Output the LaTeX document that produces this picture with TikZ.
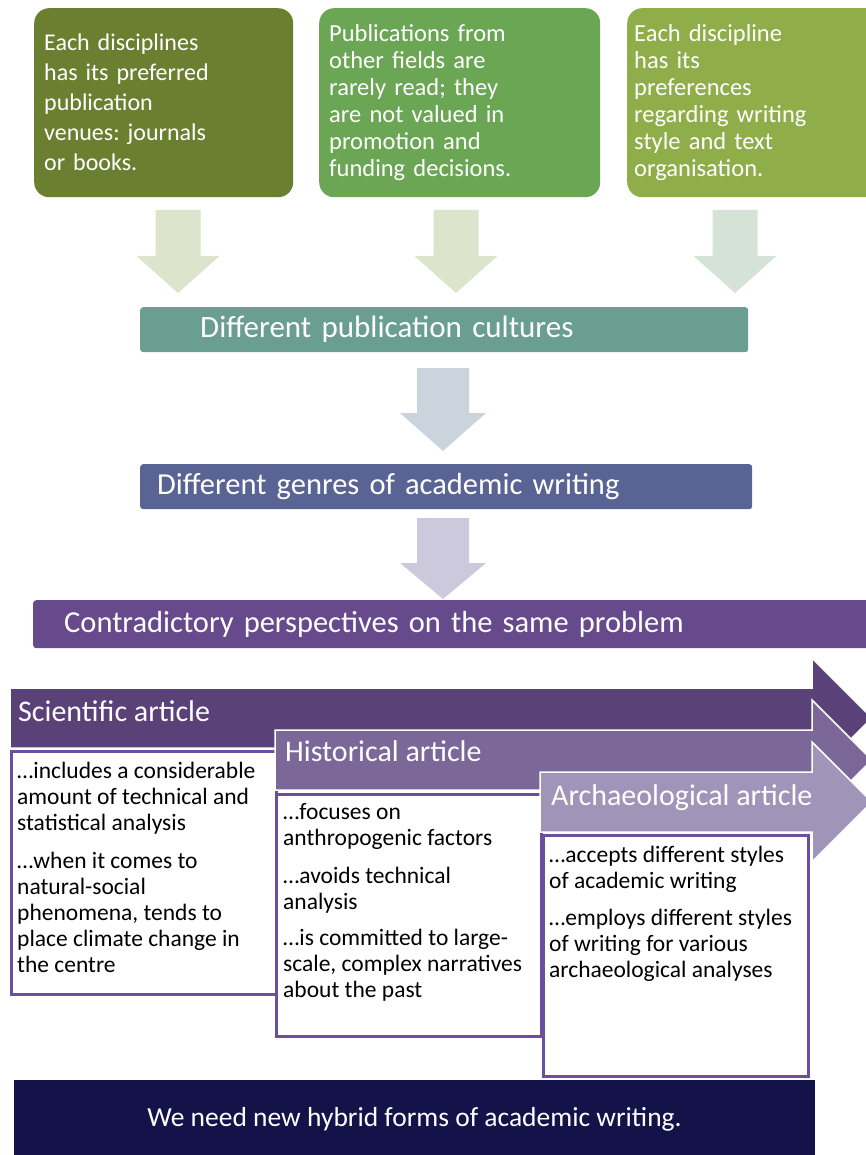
\documentclass[tikz,border=0pt]{standalone}
\usepackage{fontspec}
\setmainfont{Carlito}
\frenchspacing
\definecolor{gA}{HTML}{6B7F31}
\definecolor{gB}{HTML}{6AA653}
\definecolor{gC}{HTML}{8FAE4A}
\definecolor{arrG}{HTML}{DCE4CB}
\definecolor{arrGt}{HTML}{D4E3D5}
\definecolor{pubC}{HTML}{6A9E8E}
\definecolor{arrB}{HTML}{CBD3DD}
\definecolor{genC}{HTML}{596494}
\definecolor{arrP}{HTML}{CDC9DC}
\definecolor{conC}{HTML}{664A8C}
\definecolor{sciC}{HTML}{5A4279}
\definecolor{hisC}{HTML}{7B6898}
\definecolor{arcC}{HTML}{A094B8}
\definecolor{boxB}{HTML}{6B4F9C}
\definecolor{navy}{HTML}{13134A}
\begin{document}
\begin{tikzpicture}[x=1pt,y=-1pt,
  gbox/.style={rounded corners=15pt, anchor=north west, minimum height=189pt,
    inner xsep=10pt, inner ysep=0pt, align=left, text=white},
  mbox/.style={rounded corners=3pt, anchor=north west, inner ysep=0pt,
    align=left, text=white, font=\fontsize{30.5}{36}\selectfont},
  band/.style={draw=white, line width=1.5pt},
  blabel/.style={anchor=base west, inner sep=0pt, text=white,
    font=\fontsize{30}{34}\selectfont},
  wbox/.style={draw=boxB, line width=2.5pt, fill=white, anchor=north west,
    inner sep=0pt},
  btext/.style={anchor=north west, inner sep=0pt, align=left,
    font=\fontsize{23.5}{26}\selectfont}]
\useasboundingbox (0,0) rectangle (866,1155);
\clip (0,0) rectangle (866,1155);

% top green boxes
\node[gbox, fill=gA, minimum width=259pt, text width=239pt,
  font=\fontsize{24}{30}\selectfont] (g1) at (34,8)
  {Each disciplines\\has its preferred\\publication\\venues: journals\\or books.};
\node[gbox, fill=gB, minimum width=281pt, text width=261pt,
  font=\fontsize{24.5}{27}\selectfont] (g2) at (319,8)
  {Publications from\\other fields are\\rarely read; they\\are not valued in\\promotion and\\funding decisions.};
\node[gbox, fill=gC, minimum width=270pt, text width=256pt, inner xsep=7pt,
  font=\fontsize{24.5}{27}\selectfont] (g3) at (627,8)
  {Each discipline\\has its\\preferences\\regarding writing\\style and text\\organisation.};

% top block arrows
\foreach \c/\col in {178/arrG, 456/arrG, 735/arrGt}{
  \fill[\col] (\c-22.5,210) -- (\c+22.5,210) -- (\c+22.5,256) -- (\c+41.5,256)
    -- (\c,293) -- (\c-41.5,256) -- (\c-22.5,256) -- cycle;
}

% middle boxes
\node[mbox, fill=pubC, minimum width=608pt, minimum height=45pt,
  inner xsep=60pt, text width=488pt, font=\fontsize{31}{36}\selectfont]
  (pub) at (140,307) {Different publication cultures};
\fill[arrB] (417,368) -- (469,368) -- (469,413) -- (486,413) -- (443,451)
  -- (400,413) -- (417,413) -- cycle;
\node[mbox, fill=genC, minimum width=612pt, minimum height=45pt,
  inner xsep=17pt, text width=578pt] (gen) at (140,464) {Different genres of academic writing};
\fill[arrP] (417,518) -- (469,518) -- (469,563) -- (486,563) -- (443,599)
  -- (400,563) -- (417,563) -- cycle;
\node[mbox, fill=conC, minimum width=840pt, minimum height=48pt,
  inner xsep=31pt, text width=778pt] (con) at (33,600) {Contradictory perspectives on the same problem};

% scientific article
\draw[band, fill=sciC] (10,688) -- (812,688) -- (812,658) -- (872,718)
  -- (812,778) -- (812,748) -- (10,748) -- cycle;
\node[blabel] (sciL) at (18,721.5) {Scientific article};
\node[wbox, minimum width=265pt, minimum height=243pt] (sciB) at (10,750) {};
\node[btext] (sciT) at (17,762)
  {…includes a considerable\\amount of technical and\\statistical analysis\\[12pt]
   …when it comes to\\natural-social\\phenomena, tends to\\place climate change in\\the centre};

% historical article
\draw[band, fill=hisC] (275,730) -- (812,730) -- (812,700) -- (872,760)
  -- (812,820) -- (812,790) -- (275,790) -- cycle;
\node[blabel] (hisL) at (285,761.5) {Historical article};
\node[wbox, minimum width=265pt, minimum height=242pt] (hisB) at (275,793) {};
\node[btext] (hisT) at (283,803)
  {…focuses on\\anthropogenic factors\\[12pt]
   …avoids technical\\analysis\\[10pt]
   …is committed to large-\\scale, complex narratives\\about the past};

% archaeological article
\draw[band, fill=arcC] (540,772) -- (812,772) -- (812,742) -- (872,802)
  -- (812,862) -- (812,832) -- (540,832) -- cycle;
\node[blabel] (arcL) at (551,805.5) {Archaeological article};
\node[wbox, minimum width=265pt, minimum height=241pt] (arcB) at (542,834) {};
\node[btext] (arcT) at (549,846)
  {…accepts different styles\\of academic writing\\[11pt]
   …employs different styles\\of writing for various\\archaeological analyses};

% bottom box
\fill[navy] (14,1080) rectangle (815,1160);
\node[anchor=base, inner sep=0pt, text=white, font=\fontsize{27.5}{32}\selectfont]
  (need) at (414.5,1126) {We need new hybrid forms of academic writing.};
\end{tikzpicture}
\end{document}
